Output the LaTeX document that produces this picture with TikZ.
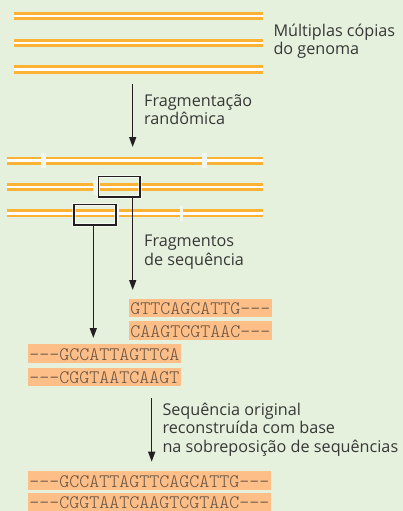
\documentclass[tikz,border=0pt]{standalone}
\usepackage{fontspec}
\setmainfont{Open Sans}
\setmonofont{Latin Modern Mono Light}
\usetikzlibrary{arrows.meta}
\definecolor{bgc}{RGB}{229,241,221}
\definecolor{dnaor}{RGB}{252,178,52}
\definecolor{gapc}{RGB}{241,247,236}
\definecolor{seqc}{RGB}{253,190,135}
\definecolor{seqtxt}{RGB}{100,84,68}
\definecolor{labtxt}{RGB}{55,55,55}
\definecolor{arrc}{RGB}{35,31,32}
\newcommand\dnaseg[3]{%
  \fill[dnaor] (#1,#3-4) rectangle (#2,#3+4);
  \fill[white] (#1,#3-1.2) rectangle (#2,#3+1.2);}
\newcommand\gapbar[3]{%
  \fill[gapc] (#1,#3-7.5) rectangle (#2,#3+7.5);}
\tikzset{
  arr/.style={draw=arrc, line width=1.5pt, -{Triangle[length=10pt,width=7pt]}},
  lab/.style={anchor=base west, inner sep=0pt, text=labtxt, font=\fontsize{16.2}{18}\selectfont},
  selbox/.style={draw=arrc, line width=1.5pt, anchor=north west, inner sep=0pt,
    minimum width=41.7pt, minimum height=20.5pt,
    preaction={draw=white, line width=3.5pt, opacity=.6}},
  seqbox/.style={fill=seqc, anchor=north west, inner xsep=1.2pt, inner ysep=0pt,
    text height=16pt, text depth=2.3pt, text=seqtxt,
    font=\ttfamily\fontsize{19.05}{20}\selectfont}
}
\begin{document}
\begin{tikzpicture}[x=1pt,y=-1pt]
\fill[bgc] (0,0) rectangle (403,511);
\useasboundingbox (0,0) rectangle (403,511);
% genome copies
\dnaseg{14}{263}{16.2}
\dnaseg{14}{263}{42.8}
\dnaseg{14}{263}{69.5}
\node[lab] (l1a) at (273.3,36.7) {Múltiplas cópias};
\node[lab] (l1b) at (273.3,54.3) {do genoma};
% arrow 1
\coordinate (a1s) at (132.7,84);
\coordinate (a1e) at (132.7,147);
\draw[arr] (a1s) -- (a1e);
\node[lab] (l2a) at (144,106) {Fragmentação};
\node[lab] (l2b) at (144,124.3) {randômica};
% fragmented rows
\gapbar{40.7}{45.7}{160.5}
\gapbar{201.7}{206.7}{160.5}
\dnaseg{7.3}{40.7}{160.5}
\dnaseg{45.7}{201.7}{160.5}
\dnaseg{206.7}{262.7}{160.5}
\gapbar{93.3}{97.5}{187}
\dnaseg{7.3}{93.3}{187}
\dnaseg{99.5}{262.7}{187}
\gapbar{116}{119.3}{213.3}
\gapbar{180}{183.3}{213.3}
\dnaseg{7.3}{116}{213.3}
\dnaseg{119.3}{180}{213.3}
\dnaseg{183.3}{262.7}{213.3}
% selection boxes
\node[selbox] (box1) at (97.6,175.6) {};
\node[selbox] (box2) at (73.3,203.6) {};
\coordinate (t1) at (132.7,290);
\coordinate (t2) at (93.3,338);
\draw[arr] (box1.south -| t1) -- (t1);
\draw[arr] (box2.south -| t2) -- (t2);
\node[lab] (l3a) at (144,246) {Fragmentos};
\node[lab] (l3b) at (144,265) {de sequência};
% fragments
\node[seqbox] (s1) at (129,298.3) {GTTCAGCATTG---};
\node[seqbox] (s2) at (129,321.2) {CAAGTCGTAAC---};
\node[seqbox] (s3) at (28,344.2) {---GCCATTAGTTCA};
\node[seqbox] (s4) at (28,367.3) {---CGGTAATCAAGT};
% arrow 3
\coordinate (a3s) at (151.7,398.3);
\coordinate (a3e) at (151.7,461.7);
\draw[arr] (a3s) -- (a3e);
\node[lab] (l4a) at (162.3,415) {Sequência original};
\node[lab] (l4b) at (162.3,433.5) {reconstruída com base};
\node[lab] (l4c) at (162.3,452.3) {na sobreposição de sequências};
% reconstructed
\node[seqbox] (s5) at (28,471.2) {---GCCATTAGTTCAGCATTG---};
\node[seqbox] (s6) at (28,492.4) {---CGGTAATCAAGTCGTAAC---};
\end{tikzpicture}
\end{document}
